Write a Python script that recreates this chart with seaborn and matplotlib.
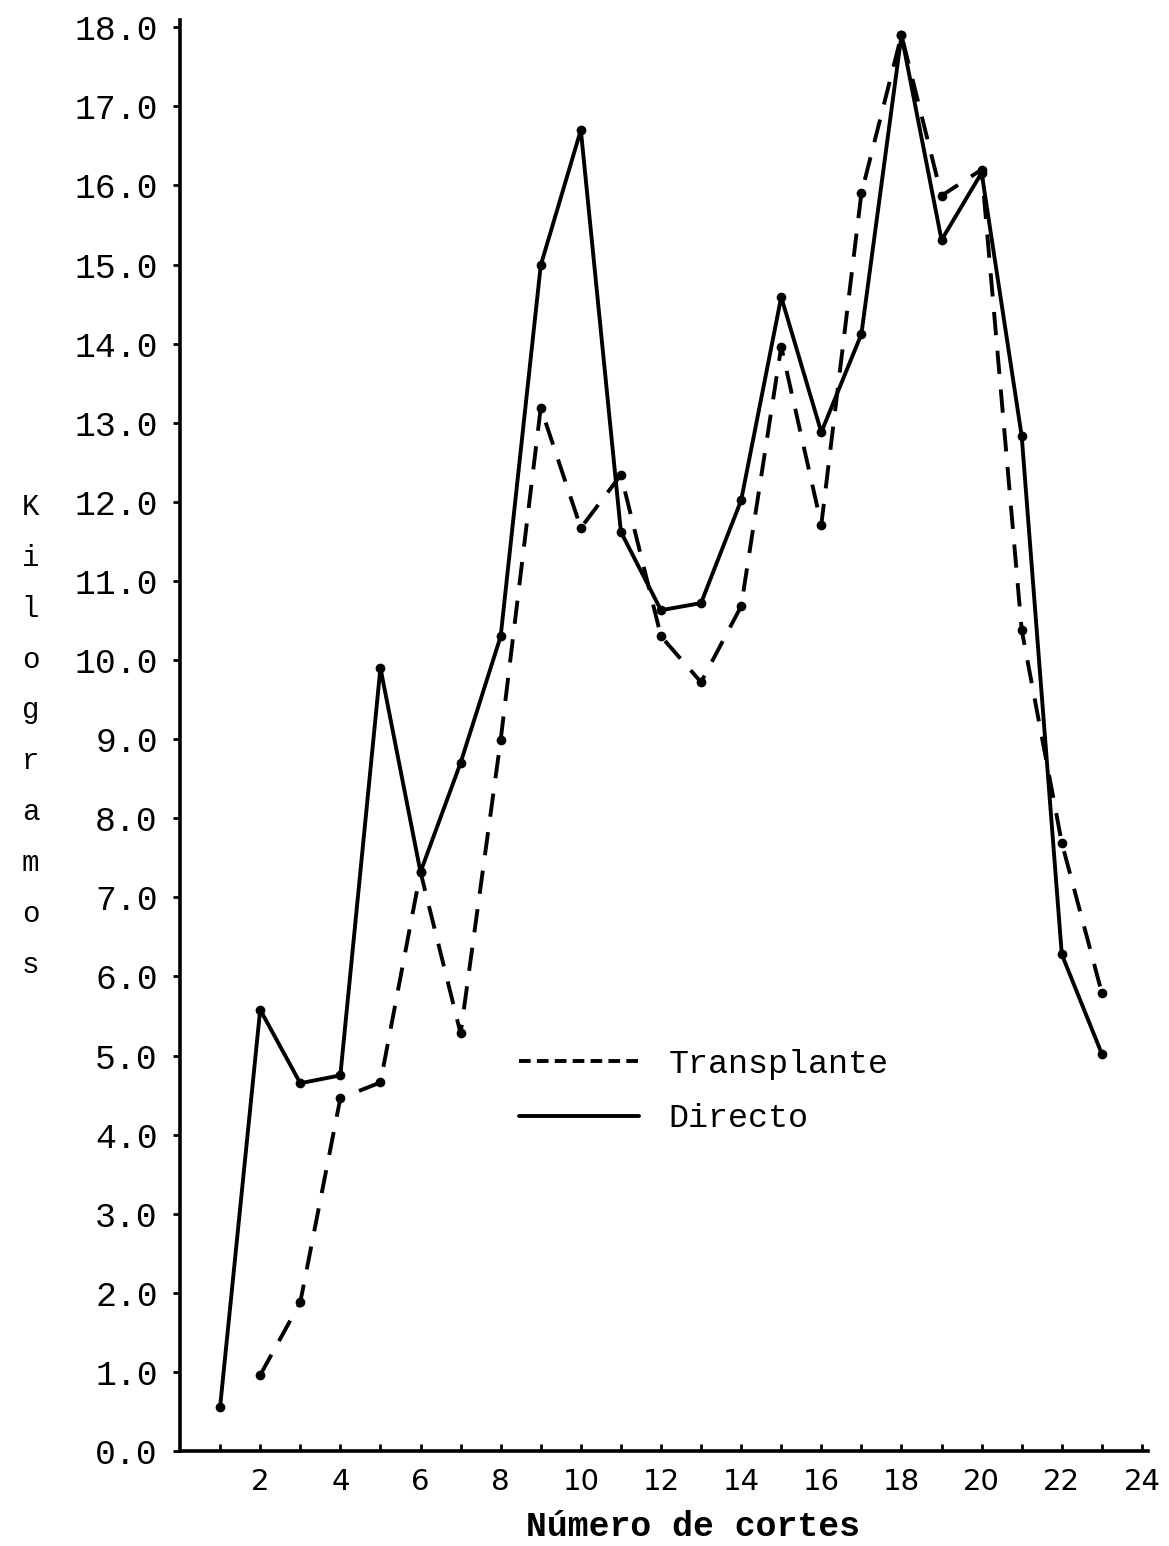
import matplotlib
matplotlib.use("Agg")
import matplotlib.pyplot as plt
import seaborn as sns
import pandas as pd

cortes_directo = list(range(1, 24))
directo = [0.56, 5.58, 4.65, 4.75, 9.90, 7.32, 8.70, 10.30, 14.99, 16.70, 11.62, 10.63,
           10.72, 12.02, 14.59, 12.88, 14.12, 17.90, 15.31, 16.16, 12.83, 6.28, 5.02]
cortes_trans = list(range(2, 24))
transplante = [0.96, 1.88, 4.46, 4.66, 7.32, 5.28, 8.99, 13.19, 11.67, 12.34, 10.30,
               9.72, 10.68, 13.96, 11.71, 15.90, 17.90, 15.87, 16.20, 10.38, 7.69, 5.79]
xtick_vals = list(range(1, 25))
xtick_labels = [str(v) if v % 2 == 0 else "" for v in xtick_vals]
ytick_vals = list(range(0, 19))

sns.set_style("white")
for k in ["text.color", "axes.labelcolor", "xtick.color", "ytick.color"]:
    plt.rcParams[k] = "black"
mono = ["Liberation Mono", "DejaVu Sans Mono"]

df_d = pd.DataFrame({"x": cortes_directo, "y": directo})
df_t = pd.DataFrame({"x": cortes_trans, "y": transplante})

fig = plt.figure(figsize=(11.69, 15.46), dpi=100)
ax = fig.add_axes([0.154, 0.0614, 0.828, 0.9256])

sns.lineplot(data=df_t, x="x", y="y", ax=ax, color="black", lw=2.8,
             marker="o", markersize=7, markeredgewidth=0, label="Transplante",
             dashes=False)
ax.lines[-1].set_dashes([6, 4])
sns.lineplot(data=df_d, x="x", y="y", ax=ax, color="black", lw=2.8,
             marker="o", markersize=7, markeredgewidth=0, label="Directo")

ax.set_xlim(0, 24.15)
ax.set_ylim(0, 18.09)
for s in ["top", "right"]:
    ax.spines[s].set_visible(False)
for s in ["left", "bottom"]:
    ax.spines[s].set_linewidth(2.6)
    ax.spines[s].set_color("black")

ax.set_yticks(ytick_vals)
ax.set_yticklabels([f"{v:.1f}" for v in ytick_vals], fontfamily=mono, fontsize=25)
ax.tick_params(axis="y", direction="out", length=5, width=2, pad=11, left=True)
ax.set_xticks(xtick_vals)
ax.set_xticklabels(xtick_labels, fontfamily="DejaVu Sans", fontsize=21)
ax.tick_params(axis="x", direction="in", length=5, width=2, pad=12, bottom=True)

ax.set_xlabel("Número de cortes", fontfamily=mono, fontsize=25, fontweight="bold")
ax.xaxis.set_label_coords(0.53, -0.041)
ax.set_ylabel("")
fig.text(0.026, 0.524, "\n".join("Kilogramos"), fontfamily=mono, fontsize=21,
         ha="center", va="center", linespacing=2.04)

leg = ax.legend(loc="upper left", bbox_to_anchor=(0.319, 0.302), frameon=False,
                prop={"family": mono, "size": 24}, handlelength=3.6,
                handletextpad=0.9, labelspacing=0.7)
for h in leg.get_lines():
    h.set_marker("")
leg.get_lines()[0].set_dashes([3, 1.6])

fig.savefig("out.png", dpi=100, facecolor="white")
